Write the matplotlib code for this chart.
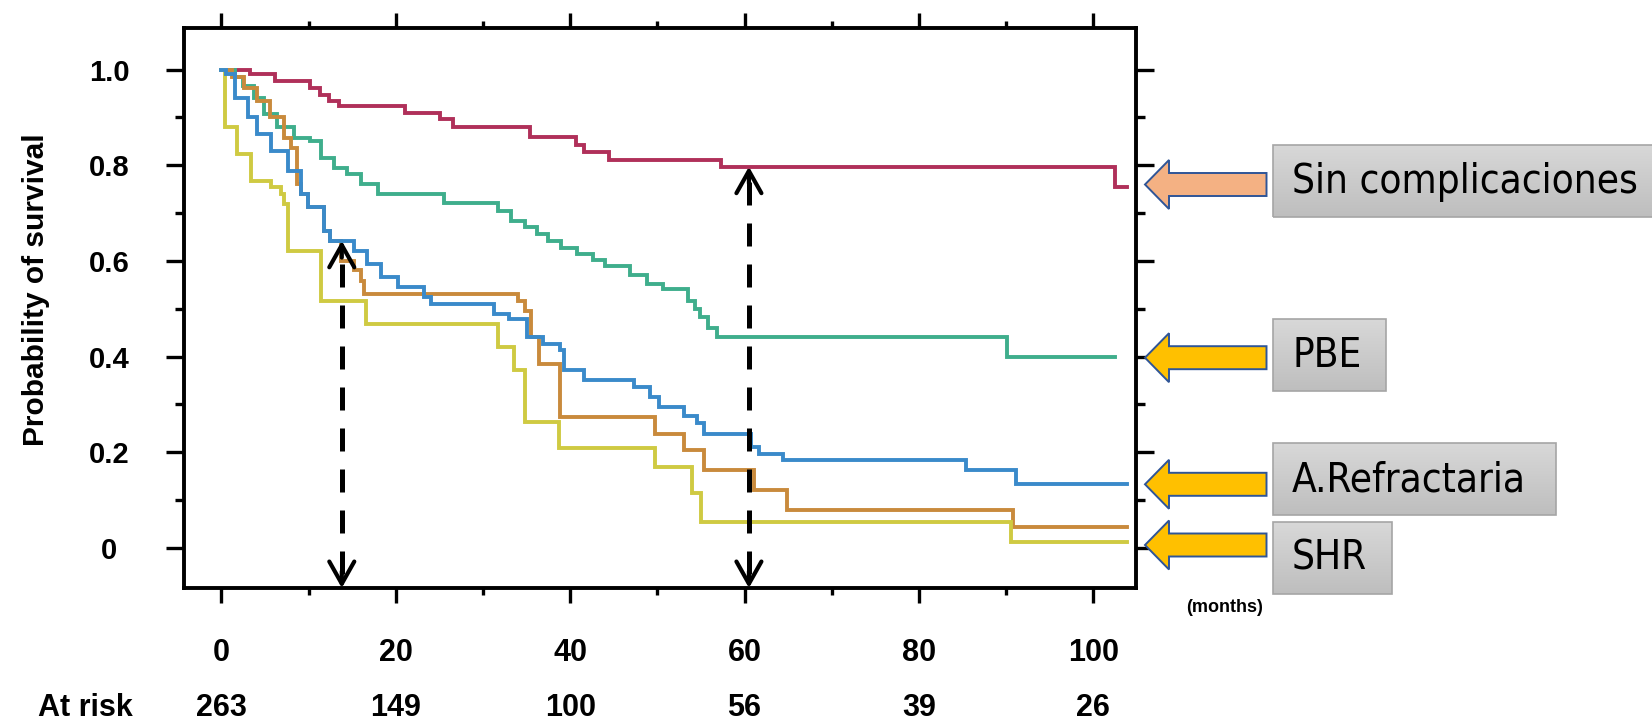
import numpy as np
import matplotlib
matplotlib.use("Agg")
import matplotlib.pyplot as plt
from matplotlib.patches import Polygon, Rectangle
from matplotlib.colors import LinearSegmentedColormap
from matplotlib.transforms import blended_transform_factory

# Kaplan-Meier step curves: event times (months) and survival after each step
t_sin = [0, 3.3, 6.1, 10.2, 11.3, 12.3, 13.5, 21.0, 25.1, 26.5, 35.4, 40.7,
         41.6, 44.5, 57.3, 102.5, 103.9]
s_sin = [1.0, 0.99, 0.976, 0.962, 0.946, 0.934, 0.924, 0.909, 0.897, 0.881,
         0.859, 0.842, 0.828, 0.811, 0.797, 0.755, 0.755]

t_pbe = [0, 1.5, 2.5, 3.7, 4.9, 6.4, 8.3, 10.2, 11.4, 12.9, 14.4, 16.0, 17.9,
         25.5, 31.7, 33.2, 34.8, 36.2, 37.5, 38.9, 40.8, 42.6, 44.0, 46.9,
         48.8, 50.7, 53.5, 54.3, 54.9, 55.8, 56.8, 90.1, 102.5]
s_pbe = [1.0, 0.985, 0.965, 0.941, 0.907, 0.879, 0.858, 0.851, 0.816, 0.795,
         0.781, 0.761, 0.740, 0.722, 0.705, 0.684, 0.670, 0.656, 0.642, 0.628,
         0.615, 0.601, 0.590, 0.570, 0.552, 0.542, 0.517, 0.500, 0.482, 0.460,
         0.441, 0.399, 0.399]

t_ar = [0, 0.5, 1.5, 3.0, 4.1, 5.7, 7.6, 9.1, 9.9, 11.8, 12.5, 15.2, 16.7,
        18.3, 20.2, 23.2, 24.0, 31.3, 33.0, 35.0, 36.9, 38.8, 39.3, 41.6,
        47.3, 49.2, 50.2, 53.0, 54.5, 55.4, 60.7, 61.6, 64.4, 85.4, 91.1, 103.9]
s_ar = [1.0, 0.99, 0.941, 0.90, 0.865, 0.83, 0.788, 0.74, 0.712, 0.663, 0.642,
        0.621, 0.594, 0.566, 0.545, 0.524, 0.510, 0.489, 0.479, 0.441, 0.427,
        0.413, 0.371, 0.35, 0.336, 0.316, 0.295, 0.275, 0.26, 0.239, 0.211,
        0.197, 0.184, 0.163, 0.133, 0.133]

t_orange = [0, 1.2, 2.6, 4.1, 5.6, 7.2, 8.0, 8.7, 9.1, 9.9, 11.8, 12.5, 13.7,
            15.2, 16.0, 16.4, 34.0, 34.8, 35.5, 36.4, 38.8, 49.7, 53.0, 55.4,
            61.1, 64.9, 90.8, 103.9]
s_orange = [1.0, 0.985, 0.962, 0.934, 0.90, 0.858, 0.837, 0.761, 0.74, 0.712,
            0.663, 0.642, 0.60, 0.58, 0.559, 0.531, 0.517, 0.496, 0.441, 0.385,
            0.274, 0.239, 0.204, 0.163, 0.121, 0.079, 0.044, 0.044]

t_shr = [0, 0.4, 1.8, 3.4, 5.7, 6.8, 7.2, 7.6, 11.4, 16.6, 31.7, 33.6, 34.8,
         38.7, 49.7, 54.0, 55.0, 90.6, 103.9]
s_shr = [1.0, 0.879, 0.823, 0.767, 0.754, 0.74, 0.72, 0.621, 0.517, 0.469,
         0.42, 0.371, 0.263, 0.208, 0.17, 0.114, 0.055, 0.012, 0.012]

x_major = [0, 20, 40, 60, 80, 100]
at_risk = [263, 149, 100, 56, 39, 26]
y_major = [0, 0.2, 0.4, 0.6, 0.8, 1.0]
y_labels = ["0", "0.2", "0.4", "0.6", "0.8", "1.0"]
marked_months = [13.8, 60.5]       # dashed arrows: A.Refractaria, Sin complicaciones

labels = ["Sin complicaciones", "PBE", "A.Refractaria", "SHR"]

W, H = 1652, 726
plt.rcParams["font.family"] = ["Liberation Sans", "DejaVu Sans"]
plt.rcParams["font.weight"] = "bold"

fig = plt.figure(figsize=(W / 100, H / 100), dpi=100)
ax = fig.add_axes([184 / W, 1 - 588 / H, (1136 - 184) / W, (588 - 28) / H])

curves = [(t_sin, s_sin, "#B0305A"), (t_pbe, s_pbe, "#3FAE8C"),
          (t_orange, s_orange, "#C98A3C"), (t_shr, s_shr, "#CFCA42"),
          (t_ar, s_ar, "#3A8ACA")]
for t, s, c in curves:
    ax.step(t, s, where="post", color=c, lw=2.8, solid_joinstyle="miter")

XLIM = (-4.3, 104.9)
YLIM = (-0.084, 1.087)
ax.set_xlim(*XLIM)
ax.set_ylim(*YLIM)

for sp in ax.spines.values():
    sp.set_linewidth(2.8)

ax.set_xticks(x_major)
ax.set_xticks(np.arange(10, 100, 20), minor=True)
ax.set_yticks(y_major, y_labels)
ax.set_yticks(np.arange(0.1, 1.0, 0.2), minor=True)
ax.tick_params(which="both", direction="out", width=2.4, top=True, right=True,
               labelsize=22)
ax.tick_params(axis="x", which="major", length=11, pad=25)
ax.tick_params(axis="x", which="minor", length=5)
ax.tick_params(axis="y", which="major", length=13, pad=41, labelsize=21)
ax.tick_params(axis="y", which="minor", length=6.5)
for lbl in ax.get_yticklabels():
    lbl.set_ha("center")


def value_at(t, s, x):
    i = np.searchsorted(t, x, side="right") - 1
    return s[i]


# dashed double arrows from the time axis up to the curve they mark
targets = [value_at(t_ar, s_ar, marked_months[0]),
           value_at(t_sin, s_sin, marked_months[1])]
head = dict(arrowstyle="->,head_length=0.4,head_width=0.225", lw=3.0,
            color="black", mutation_scale=40, shrinkA=0, shrinkB=0)
for mx, top in zip(marked_months, targets):
    ax.plot([mx, mx], [YLIM[0] + 0.03, top - 0.03], color="black", lw=3.6,
            ls=(0, (4.6, 3.6)), zorder=5, clip_on=False)
    ax.annotate("", xy=(mx, top), xytext=(mx, top - 0.035),
                arrowprops=head, zorder=6, annotation_clip=False)
    ax.annotate("", xy=(mx, YLIM[0]), xytext=(mx, YLIM[0] + 0.035),
                arrowprops=head, zorder=6, annotation_clip=False)

# number at risk row
row = blended_transform_factory(ax.transData, fig.transFigure)
for x, n in zip(x_major, at_risk):
    ax.text(x, 1 - 708 / H, str(n), transform=row, ha="center", va="center",
            fontsize=22, fontweight="bold", clip_on=False)
fig.text(85 / W, 1 - 708 / H, "At risk", ha="center", va="center",
         fontsize=22, fontweight="bold")
fig.text(1225 / W, 1 - 608 / H, "(months)", ha="center", va="center",
         fontsize=13, fontweight="bold")
fig.text(36 / W, 1 - 290 / H, "Probability of survival", rotation=90,
         ha="center", va="center", fontsize=21.5, fontweight="bold")


# labels on the right: block arrows and grey boxes, placed in pixels
def px(x, y):
    return x / W, 1 - y / H


arrow_y = [184.5, 357.7, 484.3, 545.0]
arrow_fill = ["#F4B183", "#FFC000", "#FFC000", "#FFC000"]
box_top = [145, 319, 443, 522]
box_w = [420, 113, 283, 119]
grey = LinearSegmentedColormap.from_list("grey", ["#D8D8D8", "#BEBEBE"])
grad = np.linspace(0, 1, 64).reshape(-1, 1)

for lab, cy, fill, by, bw in zip(labels, arrow_y, arrow_fill, box_top, box_w):
    tip, neck, tail, hh, sh = 1145, 1169, 1266.5, 24.5, 11.5
    pts = [(tip, cy), (neck, cy - hh), (neck, cy - sh), (tail, cy - sh),
           (tail, cy + sh), (neck, cy + sh), (neck, cy + hh)]
    fig.patches.append(Polygon([px(*p) for p in pts], closed=True,
                               transform=fig.transFigure, facecolor=fill,
                               edgecolor="#2F5597", lw=1.4))
    bx = fig.add_axes([1272.5 / W, 1 - (by + 72) / H, bw / W, 72 / H])
    bx.imshow(grad, aspect="auto", cmap=grey, extent=[0, 1, 0, 1])
    bx.set_axis_off()
    fig.patches.append(Rectangle(px(1272.5, by + 72), bw / W, 72 / H,
                                 transform=fig.transFigure, fill=False,
                                 edgecolor="#A5A5A5", lw=1.2))
    fig.text(1292 / W, 1 - (by + 37) / H, lab, ha="left", va="center",
             fontsize=29, fontweight="normal",
             family=["DejaVu Sans"], fontstretch="condensed")

fig.savefig("out.png", dpi=100)
